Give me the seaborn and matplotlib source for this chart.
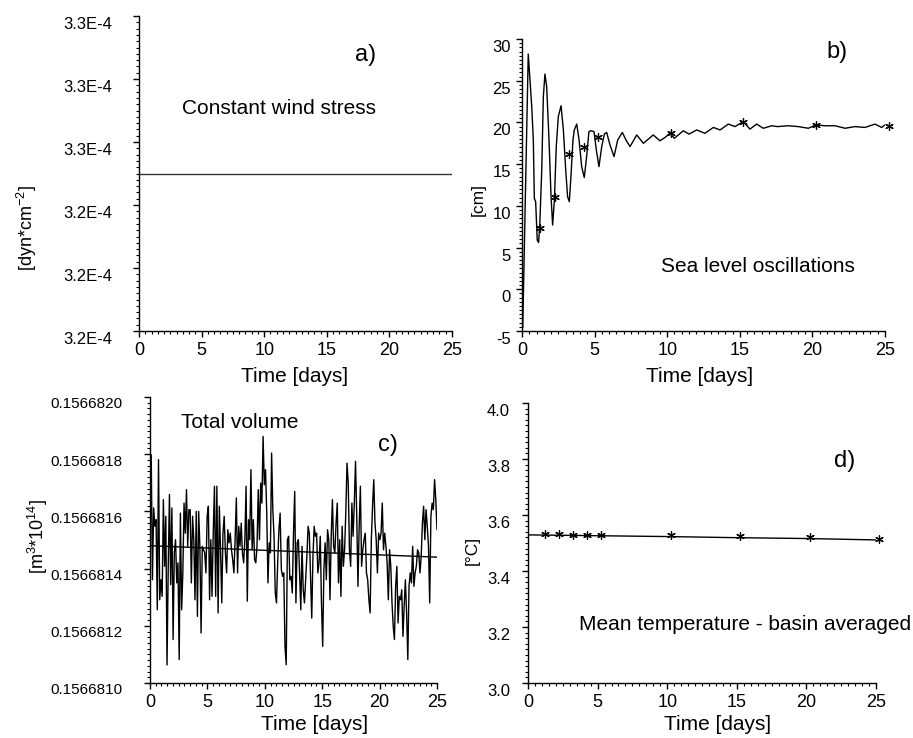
import numpy as np
import pandas as pd
import matplotlib
matplotlib.use("Agg")
import matplotlib.pyplot as plt
import matplotlib.transforms as mtransforms
from matplotlib.ticker import MultipleLocator, AutoMinorLocator, FixedLocator, FixedFormatter, FormatStrFormatter
import seaborn as sns

# ---------------- data ----------------
# a) constant wind stress
wind_t = [0, 25]
wind_stress = [3.245e-4, 3.245e-4]
wind_ticks = [3.22e-4, 3.23e-4, 3.24e-4, 3.25e-4, 3.26e-4, 3.27e-4]
wind_tick_labels = ["3.2E-4", "3.2E-4", "3.2E-4", "3.3E-4", "3.3E-4", "3.3E-4"]

# b) sea level oscillations [cm]
sea_t = [0.0, 0.05, 0.43, 0.55, 0.67, 0.78, 0.85, 0.94, 1.05, 1.14,
         1.22, 1.36, 1.47, 1.58, 1.70, 1.86, 2.00, 2.11, 2.23, 2.36,
         2.50, 2.69, 2.85, 3.01, 3.14, 3.26, 3.37, 3.51, 3.60, 3.77,
         3.93, 4.11, 4.29, 4.45, 4.61, 4.75, 4.96, 5.12, 5.30, 5.49,
         5.67, 5.83, 6.06, 6.34, 6.59, 6.91, 7.16, 7.44, 7.90, 8.36,
         9.04, 9.50, 9.85, 10.19, 10.49, 11.11, 11.50, 12.03, 12.60, 13.18,
         13.64, 14.21, 14.67, 15.24, 15.70, 16.16, 16.62, 17.20, 17.60, 18.34,
         19.03, 19.72, 20.25, 20.87, 21.56, 22.25, 22.93, 23.62, 24.31, 24.77,
         25.0]
sea_level = [-4.4, -4.6, 28.2, 25.1, 21.9, 17.9, 10.9, 10.5, 5.9, 5.6,
             7.5, 14.3, 23.1, 25.8, 24.3, 17.9, 11.1, 7.7, 10.7, 17.1,
             20.7, 22.0, 19.1, 14.3, 11.1, 10.5, 13.5, 17.9, 19.1, 19.8,
             17.9, 14.7, 13.4, 15.9, 18.9, 19.0, 18.9, 16.7, 14.7, 17.1,
             18.6, 18.8, 17.3, 15.9, 17.9, 18.8, 17.9, 17.1, 18.5, 17.5,
             18.5, 17.8, 18.2, 18.7, 18.1, 19.0, 18.6, 19.1, 18.7, 19.4,
             19.1, 19.8, 19.5, 20.1, 19.2, 19.8, 19.3, 19.6, 19.5, 19.6,
             19.5, 19.3, 19.7, 19.6, 19.6, 19.3, 19.5, 19.4, 19.8, 19.4,
             19.7]
star_t = [1.25, 2.25, 3.25, 4.25, 5.25, 10.25, 15.25, 20.25, 25.25]
sea_star = [7.4, 11.1, 16.2, 17.0, 18.3, 18.7, 20.1, 19.7, 19.6]

# c) total volume [m3 * 1e14]
volume = [
    0.156681501, 0.156681798, 0.156681361, 0.156681612, 0.156681548, 0.156681571, 0.156681256, 0.156681781, 0.156681291, 0.156681361,
    0.156681303, 0.156681641, 0.156681408, 0.156681583, 0.156681063, 0.156681408, 0.156681659, 0.156681344, 0.156681612, 0.156681152,
    0.156681455, 0.156681501, 0.156681350, 0.156681420, 0.156681082, 0.156681594, 0.156681256, 0.156681385, 0.156681629, 0.156681524,
    0.156681676, 0.156681478, 0.156681606, 0.156681606, 0.156681350, 0.156681583, 0.156681501, 0.156681291, 0.156681600, 0.156681233,
    0.156681600, 0.156681478, 0.156681175, 0.156681478, 0.156681466, 0.156681455, 0.156681385, 0.156681583, 0.156681618, 0.156681291,
    0.156681501, 0.156681303, 0.156681524, 0.156681688, 0.156681303, 0.156681688, 0.156681245, 0.156681618, 0.156681466, 0.156681280,
    0.156681524, 0.156681583, 0.156681455, 0.156681385, 0.156681536, 0.156681490, 0.156681524, 0.156681466, 0.156681431, 0.156681385,
    0.156681501, 0.156681647, 0.156681385, 0.156681548, 0.156681478, 0.156681559, 0.156681455, 0.156681420, 0.156681501, 0.156681688,
    0.156681286, 0.156681571, 0.156681501, 0.156681746, 0.156681466, 0.156681571, 0.156681431, 0.156681420, 0.156681478, 0.156681676,
    0.156681501, 0.156681699, 0.156681629, 0.156681862, 0.156681693, 0.156681746, 0.156681594, 0.156681350, 0.156681490, 0.156681455,
    0.156681804, 0.156681606, 0.156681513, 0.156681315, 0.156681280, 0.156681420, 0.156681536, 0.156681594, 0.156681396, 0.156681373,
    0.156681385, 0.156681128, 0.156681064, 0.156681501, 0.156681513, 0.156681361, 0.156681373, 0.156681315, 0.156681524, 0.156681670,
    0.156681280, 0.156681490, 0.156681501, 0.156681385, 0.156681256, 0.156681478, 0.156681326, 0.156681280, 0.156681361, 0.156681443,
    0.156681548, 0.156681524, 0.156681373, 0.156681227, 0.156681443, 0.156681548, 0.156681513, 0.156681524, 0.156681385, 0.156681420,
    0.156681513, 0.156681280, 0.156681128, 0.156681396, 0.156681490, 0.156681361, 0.156681536, 0.156681501, 0.156681291, 0.156681513,
    0.156681641, 0.156681478, 0.156681455, 0.156681559, 0.156681629, 0.156681350,
    0.156681501, 0.156681303, 0.156681548, 0.156681408, 0.156681466, 0.156681594, 0.156681769, 0.156681699, 0.156681466, 0.156681408,
    0.156681629, 0.156681513, 0.156681629, 0.156681775, 0.156681583, 0.156681338, 0.156681548, 0.156681688, 0.156681408, 0.156681466,
    0.156681501, 0.156681524, 0.156681385, 0.156681361, 0.156681291, 0.156681245, 0.156681501, 0.156681618, 0.156681711, 0.156681559,
    0.156681501, 0.156681385, 0.156681524, 0.156681501, 0.156681524, 0.156681629, 0.156681466, 0.156681524, 0.156681478, 0.156681420,
    0.156681291, 0.156681466, 0.156681408, 0.156681280, 0.156681198, 0.156681152, 0.156681338, 0.156681408, 0.156681210, 0.156681303,
    0.156681291, 0.156681326, 0.156681163, 0.156681268, 0.156681361, 0.156681245, 0.156681082, 0.156681338, 0.156681385, 0.156681350,
    0.156681478, 0.156681338, 0.156681385, 0.156681408, 0.156681466, 0.156681455, 0.156681385, 0.156681443, 0.156681559, 0.156681618,
    0.156681501, 0.156681606, 0.156681548, 0.156681478, 0.156681280, 0.156681583, 0.156681629, 0.156681606, 0.156681711, 0.156681641,
    0.156681536,
]
volume_trend_t = [0, 25]
volume_trend = [0.15668148, 0.15668144]

# d) mean temperature [deg C]
temp_t = [0, 5, 10, 15, 20, 25]
temp_line = [3.529, 3.526, 3.523, 3.519, 3.516, 3.511]
temp_star = [3.531, 3.531, 3.529, 3.529, 3.529, 3.528, 3.524, 3.521, 3.513]

# ---------------- style ----------------
sns.set_style("ticks")
plt.rcParams["font.family"] = ["Liberation Sans", "DejaVu Sans"]
plt.rcParams["mathtext.fontset"] = "custom"
plt.rcParams["mathtext.rm"] = "Liberation Sans"
plt.rcParams["mathtext.it"] = "Liberation Sans:italic"
plt.rcParams["mathtext.default"] = "regular"
plt.rcParams["axes.unicode_minus"] = False

W, H = 913, 738
fig = plt.figure(figsize=(W / 100, H / 100), dpi=100)
fig.patch.set_facecolor("white")


def add_ax(l, t, r, b):
    return fig.add_axes([l / W, 1 - b / H, (r - l) / W, (b - t) / H])


def ftext(x, y, s, size, **kw):
    fig.text(x / W, 1 - y / H, s, ha="center", va="center", fontsize=size, color="black", **kw)


def style(ax, ypad, ysize):
    sns.despine(ax=ax)
    for side in ("left", "bottom"):
        ax.spines[side].set_color("black")
        ax.spines[side].set_linewidth(1.0)
    ax.set_xlim(0, 25)
    ax.xaxis.set_major_locator(MultipleLocator(5))
    ax.xaxis.set_minor_locator(MultipleLocator(0.5))
    ax.yaxis.set_minor_locator(AutoMinorLocator(10))
    ax.tick_params(which="major", direction="out", length=4, width=1, color="black")
    ax.tick_params(which="minor", direction="out", length=2, width=0.8, color="black")
    ax.tick_params(axis="y", which="major", pad=ypad, labelsize=ysize, labelcolor="black")
    ax.tick_params(axis="x", which="major", pad=4, labelsize=13, labelcolor="black")
    ax.set_xlabel("")
    ax.set_ylabel("")
    ax.set_facecolor("white")


def shift_ylabels(ax, dy_px=7):
    off = mtransforms.ScaledTranslation(0, -dy_px / 100, fig.dpi_scale_trans)
    for lab in ax.get_yticklabels():
        lab.set_transform(lab.get_transform() + off)


# a)
ax_a = add_ax(139, 16, 452, 331)
sns.lineplot(x=wind_t, y=wind_stress, ax=ax_a, color="#333333", linewidth=1.0, estimator=None)
ax_a.set_ylim(wind_ticks[0], wind_ticks[-1])
ax_a.yaxis.set_major_locator(FixedLocator(wind_ticks))
ax_a.yaxis.set_major_formatter(FixedFormatter(wind_tick_labels))
style(ax_a, 15, 12)
shift_ylabels(ax_a)

# b)
ax_b = add_ax(522, 39, 885, 331)
sns.lineplot(x=sea_t, y=sea_level, ax=ax_b, color="black", linewidth=1.0, estimator=None, sort=False)
sns.scatterplot(x=star_t, y=sea_star, ax=ax_b, marker=(6, 2, 0), s=30, color="black",
                edgecolor="black", linewidth=0.9, clip_on=False, zorder=3)
ax_b.set_ylim(-5, 30)
ax_b.yaxis.set_major_locator(MultipleLocator(5))
style(ax_b, 4, 12)
shift_ylabels(ax_b)

# c)
ax_c = add_ax(150, 397, 437, 683)
vol_t = np.linspace(0, 25, len(volume))
sns.lineplot(x=vol_t, y=volume, ax=ax_c, color="black", linewidth=1.0, estimator=None, sort=False)
sns.lineplot(x=volume_trend_t, y=volume_trend, ax=ax_c, color="black", linewidth=1.0, estimator=None)
ax_c.set_ylim(0.1566810, 0.1566820)
ax_c.yaxis.set_major_locator(MultipleLocator(0.0000002))
ax_c.yaxis.set_major_formatter(FormatStrFormatter("%.7f"))
style(ax_c, 16, 11)
ax_c.yaxis.get_offset_text().set_visible(False)
shift_ylabels(ax_c, 6)

# d)
ax_d = add_ax(528, 403, 876, 683)
sns.lineplot(x=temp_t, y=temp_line, ax=ax_d, color="black", linewidth=1.0, estimator=None)
sns.scatterplot(x=star_t, y=temp_star, ax=ax_d, marker=(6, 2, 0), s=30, color="black",
                edgecolor="black", linewidth=0.9, clip_on=False, zorder=3)
ax_d.set_ylim(3.0, 4.0)
ax_d.yaxis.set_major_locator(MultipleLocator(0.2))
ax_d.yaxis.set_major_formatter(FormatStrFormatter("%.1f"))
style(ax_d, 9, 12)
shift_ylabels(ax_d)

# axis titles
for (x, y) in [(295, 376), (700, 376), (315, 725), (718, 725)]:
    ftext(x, y, "Time [days]", 15)
ftext(27, 228, "[dyn*cm$^{-2}$]", 13, rotation=90)
ftext(478, 200, "[cm]", 12.5, rotation=90)
ftext(38, 536, "[m$^{3}$*10$^{14}$]", 13, rotation=90)
ftext(472, 550, "[°C]", 12.5, rotation=90)

# annotations
ftext(279, 108, "Constant wind stress", 15)
ftext(366, 55, "a)", 17)
ftext(758, 267, "Sea level oscillations", 15)
ftext(837, 52, "b)", 17)
ftext(240, 422, "Total volume", 15)
ftext(388, 445, "c)", 17)
ftext(745, 625, "Mean temperature - basin averaged", 15)
ftext(845, 461, "d)", 17)

fig.savefig("out.png", dpi=100, facecolor="white")
